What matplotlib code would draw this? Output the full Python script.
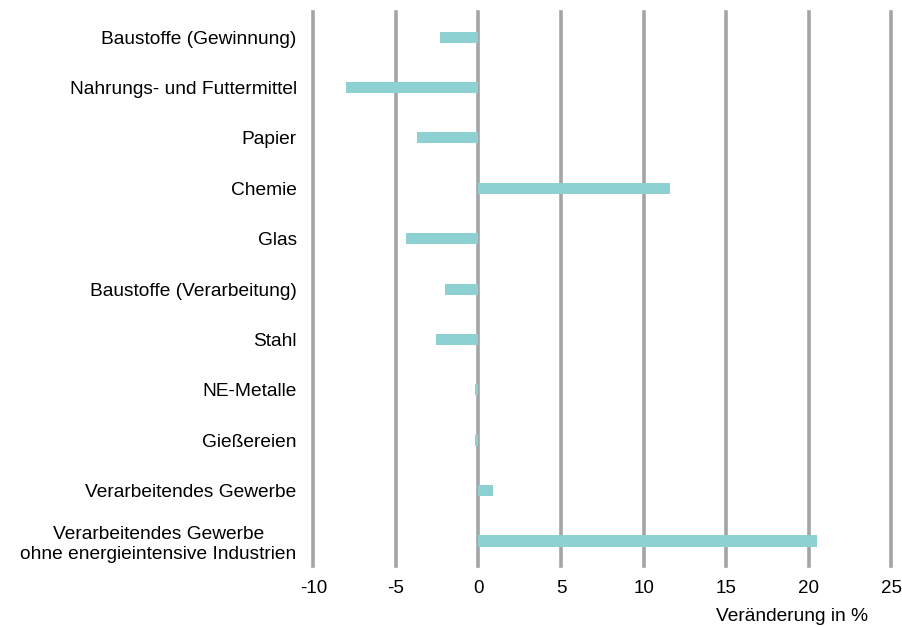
import matplotlib.pyplot as plt
import matplotlib

matplotlib.rcParams['font.family'] = ['Liberation Sans', 'DejaVu Sans']

# Daten
kategorien = [
    'Baustoffe (Gewinnung)',
    'Nahrungs- und Futtermittel',
    'Papier',
    'Chemie',
    'Glas',
    'Baustoffe (Verarbeitung)',
    'Stahl',
    'NE-Metalle',
    'Gießereien',
    'Verarbeitendes Gewerbe',
    'Verarbeitendes Gewerbe\nohne energieintensive Industrien',
]
werte = [-2.3, -8.0, -3.7, 11.6, -4.4, -2.0, -2.55, -0.2, -0.2, 0.9, 20.5]
x_ticks = [-10, -5, 0, 5, 10, 15, 20, 25]

fig = plt.figure(figsize=(9.03, 6.27), dpi=100)
ax = fig.add_axes([0.347, 0.097, 0.64, 0.884])

y = list(range(len(kategorien)))
ax.barh(y, werte, height=0.22, color='#8ed1d2', zorder=3)

ax.set_xlim(-10, 25)
ax.set_ylim(len(kategorien) - 0.5, -0.5)
ax.set_xticks(x_ticks)
ax.set_xticklabels([str(t) for t in x_ticks], fontsize=13.5)
ax.set_yticks(y)
ax.set_yticklabels(kategorien, fontsize=13.8, multialignment='center')

for t in x_ticks:
    ax.axvline(t, color='#a2a5a8', linewidth=2.6, zorder=1, clip_on=False)

for s in ax.spines.values():
    s.set_visible(False)
ax.tick_params(axis='both', length=0)
ax.tick_params(axis='x', pad=10)
ax.tick_params(axis='y', pad=12)

# Achsentitel unten rechts
fig.text(0.961, 0.003, 'Veränderung in %', ha='right', va='bottom', fontsize=13.8)

plt.savefig('out.png', dpi=100)
